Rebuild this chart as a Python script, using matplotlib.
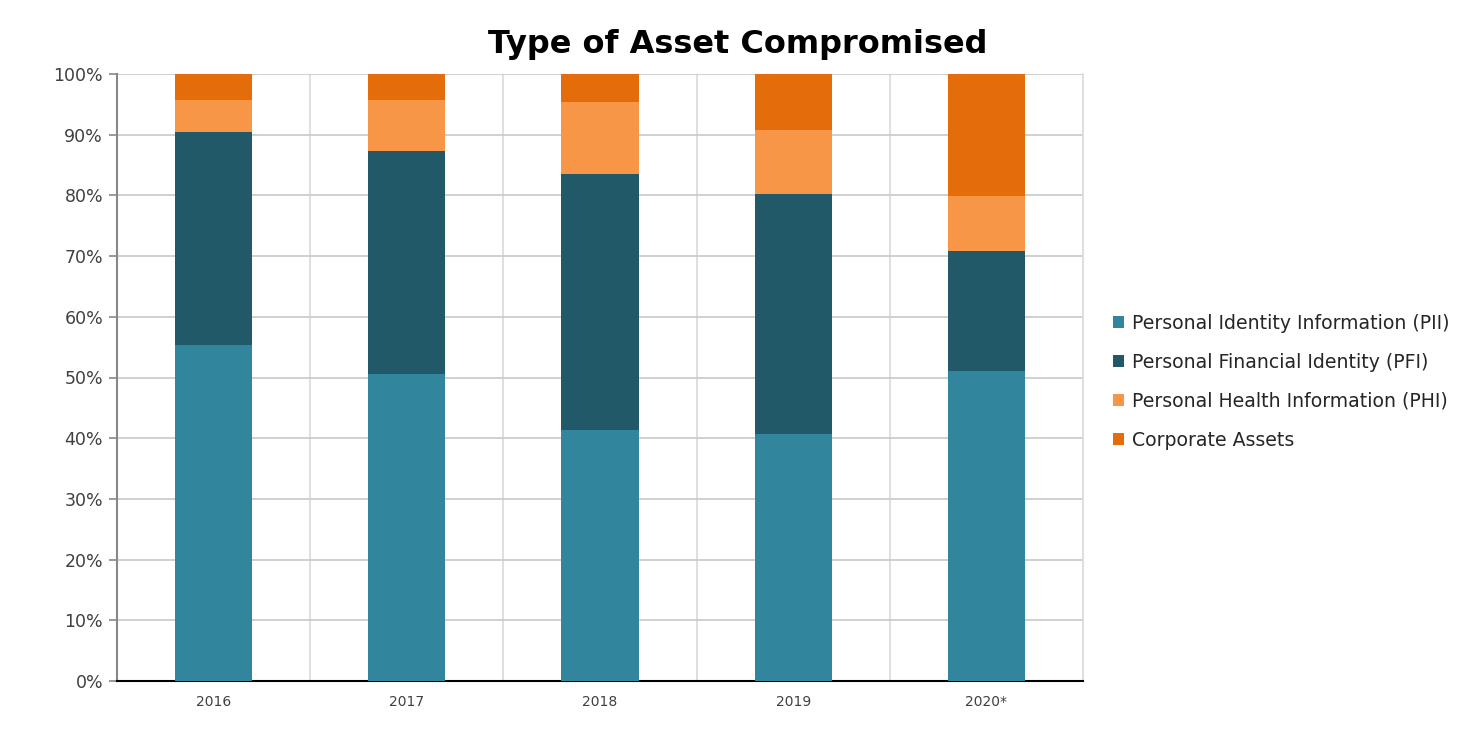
import matplotlib
matplotlib.use("Agg")
import matplotlib.pyplot as plt
import numpy as np

years = ["2016", "2017", "2018", "2019", "2020*"]
pii = [55.4, 50.6, 41.4, 40.7, 51.1]
pfi = [35.0, 36.7, 42.1, 39.5, 19.7]
phi = [5.3, 8.4, 11.9, 10.6, 9.1]
corp = [4.3, 4.3, 4.6, 9.2, 20.1]
series_names = ["Personal Identity Information (PII)", "Personal Financial Identity (PFI)",
                "Personal Health Information (PHI)", "Corporate Assets"]
colors = ["#31859C", "#215968", "#F79646", "#E46C0A"]

plt.rcParams['font.family'] = ['DejaVu Sans']

fig = plt.figure(figsize=(14.68, 7.37), dpi=100)
ax = fig.add_axes([117/1468, 56/737, (1083-117)/1468, (681-74)/737])

x = np.arange(len(years))
bottom = np.zeros(len(years))
for vals, name, c in zip([pii, pfi, phi, corp], series_names, colors):
    ax.bar(x, vals, width=0.4, bottom=bottom, color=c, label=name, zorder=3)
    bottom += np.array(vals)

ax.set_xlim(-0.5, len(years) - 0.5)
ax.set_ylim(0, 100)
ax.set_yticks(np.arange(0, 101, 10))
ax.set_yticklabels([f"{v}%" for v in range(0, 101, 10)], fontsize=12.5, color="#404040")
ax.set_xticks(x)
ax.set_xticklabels(years, fontsize=10, color="#404040")
ax.tick_params(axis='x', length=0, pad=10)
ax.tick_params(axis='y', length=6, color="#888888", width=1.2, pad=4)

ax.set_xticks(np.arange(0.5, len(years) - 0.5, 1), minor=True)
ax.tick_params(axis='x', which='minor', length=0)
ax.grid(axis='y', which='major', color="#C8C8C8", linewidth=1.2, zorder=0)
ax.grid(axis='x', which='minor', color="#D9D9D9", linewidth=1.2, zorder=0)
ax.grid(axis='x', which='major', visible=False)

ax.spines['left'].set_color("#888888")
ax.spines['left'].set_linewidth(1.5)
ax.spines['bottom'].set_color("#000000")
ax.spines['bottom'].set_linewidth(1.5)
ax.spines['top'].set_visible(False)
ax.spines['right'].set_color("#D9D9D9")
ax.spines['right'].set_linewidth(1.2)

fig.text(738/1468, 0.94, "Type of Asset Compromised", ha='center', va='center',
         fontsize=23, fontweight='bold', color="#000000")

handles, labels = ax.get_legend_handles_labels()
leg = fig.legend(handles, labels, loc='center left', bbox_to_anchor=(1096/1468, 0.482),
                 frameon=False, fontsize=13.6, handlelength=0.6, handleheight=0.6,
                 handletextpad=0.4, labelspacing=1.05, labelcolor="#262626")

fig.savefig("out.png", dpi=100, facecolor="white")
